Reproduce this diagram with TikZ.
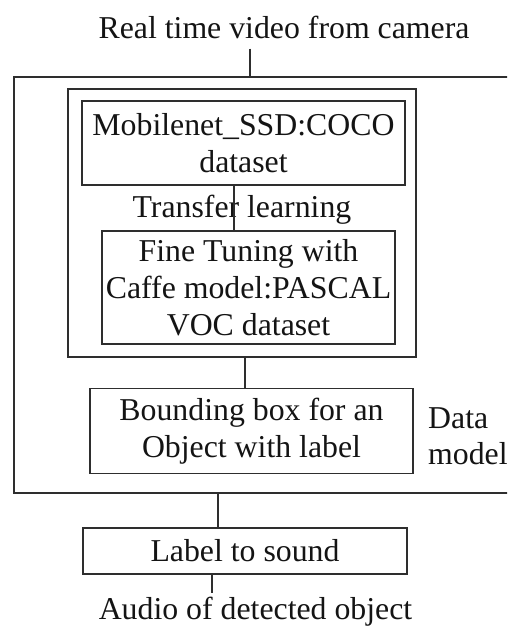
\documentclass[tikz,border=0pt]{standalone}
\usepackage{fontspec}
\setmainfont{Liberation Serif}
\begin{document}
\begin{tikzpicture}[x=1pt,y=-1pt,
  ln/.style={line width=1.5pt,draw=black!82},
  txt/.style={font=\fontsize{31.8}{37}\selectfont,text=black!92,inner sep=0pt,align=center},
  boxn/.style={ln,txt,rectangle}]
\useasboundingbox (0,0) rectangle (507,626);
\clip (0,0) rectangle (507,626);
\fill[white] (0,0) rectangle (507,626);
% title
\node[txt,anchor=base,inner ysep=9pt] (title) at (284,39) {Real time video from camera};
% outer box (cut at the right edge)
\node[ln,rectangle,minimum width=506pt,minimum height=416pt,inner sep=0pt] (outer) at (267,285) {};
% group box
\node[ln,rectangle,minimum width=348pt,minimum height=268pt,inner sep=0pt] (group) at (242,223) {};
% boxes
\node[boxn,minimum width=323pt,minimum height=84pt] (mob) at (243.5,143) {Mobilenet\_SSD:COCO\\dataset};
\node[boxn,minimum width=293pt,minimum height=113pt] (fine) at (248.5,287.5) {Fine Tuning with\\Caffe model:PASCAL\\VOC dataset};
\node[boxn,minimum width=323pt,minimum height=85pt] (bbox) at (251.5,431) {Bounding box for an\\Object with label};
\node[boxn,minimum width=324pt,minimum height=46pt] (lab) at (245,551) {Label to sound};
% labels
\node[txt,anchor=base] (tl) at (242,217) {Transfer learning};
\node[txt,anchor=base west,align=left,font=\fontsize{31.8}{36}\selectfont] (dm) at (428,464) {Data\\model};
\node[txt,anchor=base,inner ysep=3pt] (audio) at (255.5,619) {Audio of detected object};
% connectors
\draw[ln] ([xshift=-34pt]title.south) -- ([xshift=-34pt]title.south |- outer.north);
\draw[ln] ([xshift=-9.5pt]mob.south) -- ([xshift=-9.5pt]mob.south |- fine.north);
\draw[ln] ([xshift=3pt]group.south) -- ([xshift=3pt]group.south |- bbox.north);
\draw[ln] ([xshift=-27pt]lab.north) -- ([xshift=-27pt]lab.north |- outer.south);
\draw[ln] ([xshift=-33pt]lab.south) -- ([xshift=-33pt]lab.south |- audio.north);
\end{tikzpicture}
\end{document}
